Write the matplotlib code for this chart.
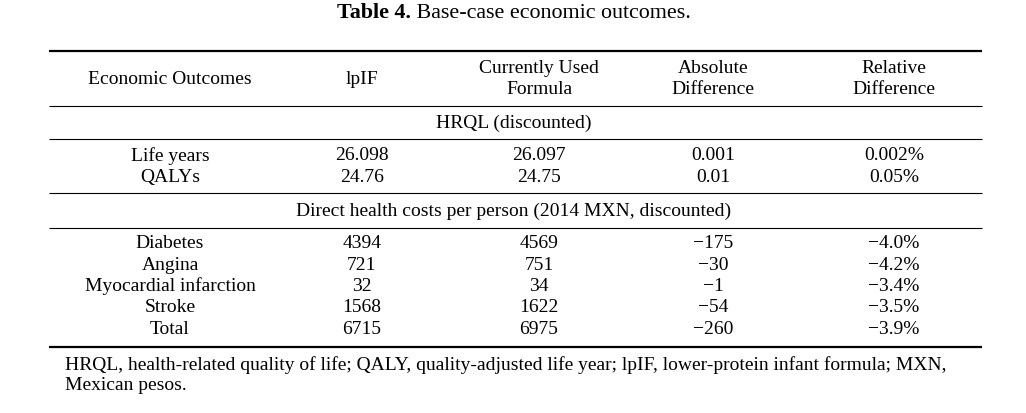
import matplotlib
matplotlib.use("Agg")
import matplotlib.pyplot as plt

title_bold = "Table 4."
title_rest = " Base-case economic outcomes."
headers = ["Economic Outcomes", "lpIF", "Currently Used\nFormula", "Absolute\nDifference", "Relative\nDifference"]
section1 = "HRQL (discounted)"
rows1 = [
    ["Life years", "26.098", "26.097", "0.001", "0.002%"],
    ["QALYs", "24.76", "24.75", "0.01", "0.05%"],
]
section2 = "Direct health costs per person (2014 MXN, discounted)"
rows2 = [
    ["Diabetes", "4394", "4569", "\u2212175", "\u22124.0%"],
    ["Angina", "721", "751", "\u221230", "\u22124.2%"],
    ["Myocardial infarction", "32", "34", "\u22121", "\u22123.4%"],
    ["Stroke", "1568", "1622", "\u221254", "\u22123.5%"],
    ["Total", "6715", "6975", "\u2212260", "\u22123.9%"],
]
footnote = ("HRQL, health-related quality of life; QALY, quality-adjusted life year; lpIF, lower-protein infant formula; MXN,\n"
            "Mexican pesos.")

W, H = 1026, 413
fig = plt.figure(figsize=(W / 100, H / 100), dpi=100)
ax = fig.add_axes([0, 0, 1, 1])
ax.set_xlim(0, W)
ax.set_ylim(H, 0)
ax.axis("off")

FONT = "Liberation Serif"
FS = 14
TFS = 15.8
col_x = [170, 362, 539, 713, 894]
x0, x1 = 49, 982

# title
t = ax.text(0, 13, title_bold, fontsize=TFS, fontweight="bold", family=FONT, va="center", ha="left")
fig.canvas.draw()
r = fig.canvas.get_renderer()
bb1 = t.get_window_extent(r)
t2 = ax.text(0, 13, title_rest, fontsize=TFS, family=FONT, va="center", ha="left")
bb2 = t2.get_window_extent(r)
total = bb1.width + bb2.width
start = 514 - total / 2
t.set_x(start)
t2.set_x(start + bb1.width)

def hline(y, lw):
    ax.plot([x0, x1], [y, y], color="black", lw=lw, solid_capstyle="butt")

hline(50.5, 1.6)
hline(106, 0.8)
hline(138.5, 0.8)
hline(193, 0.8)
hline(227.5, 0.8)
hline(347, 1.6)

for x, h in zip(col_x, headers):
    ax.text(x, 79, h, fontsize=FS, family=FONT, ha="center", va="center", linespacing=1.28)

ax.text(514, 123, section1, fontsize=FS, family=FONT, ha="center", va="center")
for i, row in enumerate(rows1):
    y = 156 + i * 21.5
    for x, v in zip(col_x, row):
        ax.text(x, y, v, fontsize=FS, family=FONT, ha="center", va="center")

ax.text(514, 211, section2, fontsize=FS, family=FONT, ha="center", va="center")
for i, row in enumerate(rows2):
    y = 243.5 + i * 21.5
    for x, v in zip(col_x, row):
        ax.text(x, y, v, fontsize=FS, family=FONT, ha="center", va="center")

ax.text(65, 375, footnote, fontsize=FS, family=FONT, ha="left", va="center", linespacing=1.28)

fig.savefig("out.png", dpi=100)
